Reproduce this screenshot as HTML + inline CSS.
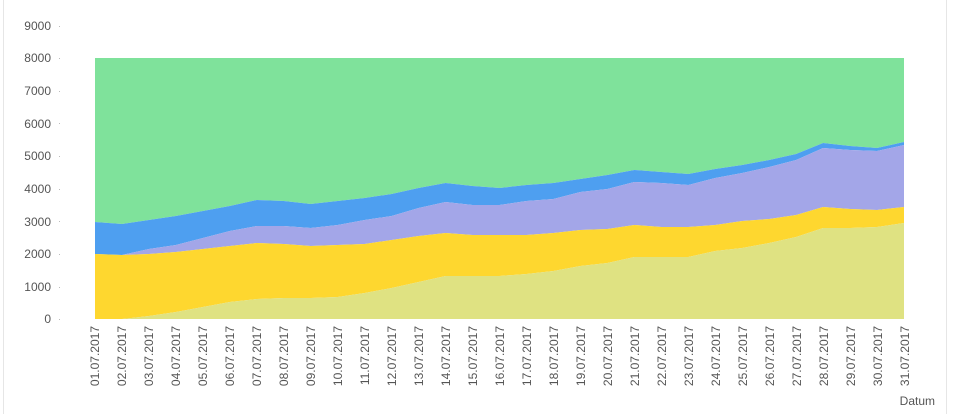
<!DOCTYPE html>
<html><head><meta charset="utf-8"><style>
html,body{margin:0;padding:0;background:#fff;}
svg{display:block;font-family:"Liberation Sans",sans-serif;}
</style></head><body>
<svg id="s" width="957" height="414" viewBox="0 0 957 414" xmlns="http://www.w3.org/2000/svg">
<line x1="3.5" y1="0" x2="3.5" y2="414" stroke="#e6e6e6"/>
<line x1="946.5" y1="0" x2="946.5" y2="414" stroke="#e6e6e6"/>
<g id="areas"></g>
<g font-size="12" fill="#555" text-anchor="end">
<text x="51" y="30">9000</text><text x="51" y="62">8000</text><text x="51" y="95">7000</text>
<text x="51" y="128">6000</text><text x="51" y="160">5000</text><text x="51" y="193">4000</text>
<text x="51" y="226">3000</text><text x="51" y="258">2000</text><text x="51" y="291">1000</text>
<text x="51" y="323">0</text>
</g>
<g fill="#bbb">
<rect x="59" y="26" width="1" height="1"/><rect x="59" y="58" width="1" height="1"/><rect x="59" y="91" width="1" height="1"/><rect x="59" y="123" width="1" height="1"/><rect x="59" y="156" width="1" height="1"/><rect x="59" y="189" width="1" height="1"/><rect x="59" y="221" width="1" height="1"/><rect x="59" y="254" width="1" height="1"/><rect x="59" y="287" width="1" height="1"/><rect x="59" y="319" width="1" height="1"/>
</g>
<g id="dates" font-size="12" fill="#555" text-anchor="end">
<text transform="translate(99,326) rotate(-90)">01.07.2017</text>
<text transform="translate(126,326) rotate(-90)">02.07.2017</text>
<text transform="translate(153,326) rotate(-90)">03.07.2017</text>
<text transform="translate(180,326) rotate(-90)">04.07.2017</text>
<text transform="translate(207,326) rotate(-90)">05.07.2017</text>
<text transform="translate(234,326) rotate(-90)">06.07.2017</text>
<text transform="translate(261,326) rotate(-90)">07.07.2017</text>
<text transform="translate(288,326) rotate(-90)">08.07.2017</text>
<text transform="translate(315,326) rotate(-90)">09.07.2017</text>
<text transform="translate(342,326) rotate(-90)">10.07.2017</text>
<text transform="translate(369,326) rotate(-90)">11.07.2017</text>
<text transform="translate(396,326) rotate(-90)">12.07.2017</text>
<text transform="translate(423,326) rotate(-90)">13.07.2017</text>
<text transform="translate(450,326) rotate(-90)">14.07.2017</text>
<text transform="translate(477,326) rotate(-90)">15.07.2017</text>
<text transform="translate(504,326) rotate(-90)">16.07.2017</text>
<text transform="translate(531,326) rotate(-90)">17.07.2017</text>
<text transform="translate(558,326) rotate(-90)">18.07.2017</text>
<text transform="translate(585,326) rotate(-90)">19.07.2017</text>
<text transform="translate(612,326) rotate(-90)">20.07.2017</text>
<text transform="translate(639,326) rotate(-90)">21.07.2017</text>
<text transform="translate(666,326) rotate(-90)">22.07.2017</text>
<text transform="translate(693,326) rotate(-90)">23.07.2017</text>
<text transform="translate(720,326) rotate(-90)">24.07.2017</text>
<text transform="translate(747,326) rotate(-90)">25.07.2017</text>
<text transform="translate(774,326) rotate(-90)">26.07.2017</text>
<text transform="translate(801,326) rotate(-90)">27.07.2017</text>
<text transform="translate(828,326) rotate(-90)">28.07.2017</text>
<text transform="translate(855,326) rotate(-90)">29.07.2017</text>
<text transform="translate(882,326) rotate(-90)">30.07.2017</text>
<text transform="translate(909,326) rotate(-90)">31.07.2017</text>
</g>
<text x="935" y="405" font-size="12" fill="#555" text-anchor="end">Datum</text>
</svg>
<script>
var kh=[319,319,316,312,307,302,299,298,298,297,293,288,282,276,276,276,274,271,266,263,257,257,257,251,248,243,237,228,228,227,223];
var ye=[254,255,254,252,249,246,243,244,246,245,244,240,236,233,235,235,235,233,230,229,225,227,227,225,221,219,215,207,209,210,207];
var la=[254,255,249,245,238,231,226,226,228,225,220,216,208,202,205,205,201,199,192,189,182,183,185,178,173,167,160,148,150,151,145];
var bl=[222,224,220,216,211,206,200,201,204,201,198,194,188,183,186,188,185,183,179,175,170,172,174,169,165,160,154,143,146,148,142];
var n=31,X=function(i){return 95+27*i*(809/810);};
function band(top,bot,c){
  var p=[];for(var i=0;i<n;i++)p.push(X(i).toFixed(1)+","+top[i]);
  for(var i=n-1;i>=0;i--)p.push(X(i).toFixed(1)+","+bot[i]);
  return '<polygon fill="'+c+'" points="'+p.join(" ")+'"/>';
}
var base=[],g=[];for(var i=0;i<n;i++){base.push(319);g.push(58);}
var h=band(g,bl,"#7fe29b")+band(bl,la,"#4e9ff0")+band(la,ye,"#a3a6e8")+band(ye,kh,"#fed72f")+band(kh,base,"#dfe282");
document.getElementById("areas").innerHTML=h;
</script>
</body></html>
